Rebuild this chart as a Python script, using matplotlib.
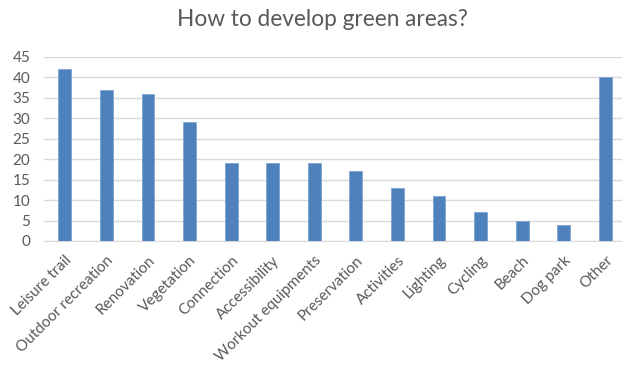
import matplotlib
matplotlib.use("Agg")
import matplotlib.pyplot as plt

# categories and counts
categories = ["Leisure trail", "Outdoor recreation", "Renovation", "Vegetation",
              "Connection", "Accessibility", "Workout equipments", "Preservation",
              "Activities", "Lighting", "Cycling", "Beach", "Dog park", "Other"]
counts = [42, 37, 36, 29, 19, 19, 19, 17, 13, 11, 7, 5, 4, 40]
yticks = [0, 5, 10, 15, 20, 25, 30, 35, 40, 45]

plt.rcParams['font.family'] = ['Lato', 'DejaVu Sans']
txt = "#595959"

fig = plt.figure(figsize=(6.22, 3.66), dpi=100)
ax = fig.add_axes([44 / 622, 125 / 366, 578 / 622, 184 / 366])

pos = list(range(len(categories)))
ax.bar(pos, counts, width=0.31, color="#4F81BD", edgecolor="#7FA3D3", linewidth=0.6, zorder=3)

ax.set_ylim(0, 45)
ax.set_xlim(-0.5, 13.4)
ax.set_yticks(yticks)
ax.yaxis.grid(True, color="#D9D9D9", linewidth=1.0, zorder=0)
ax.set_xticks(pos)
ax.set_xticklabels(categories, rotation=45, ha="right", rotation_mode="anchor")
ax.tick_params(axis="x", length=0, labelsize=11, colors=txt, pad=9)
ax.tick_params(axis="y", length=0, labelsize=11, colors=txt, pad=10)
for s in ["top", "right", "left"]:
    ax.spines[s].set_visible(False)
ax.spines["bottom"].set_color("#D9D9D9")

fig.text(322 / 622, 1 - 20 / 366, "How to develop green areas?", ha="center", va="center",
         fontsize=16.3, color=txt)

fig.savefig("out.png", dpi=100)
